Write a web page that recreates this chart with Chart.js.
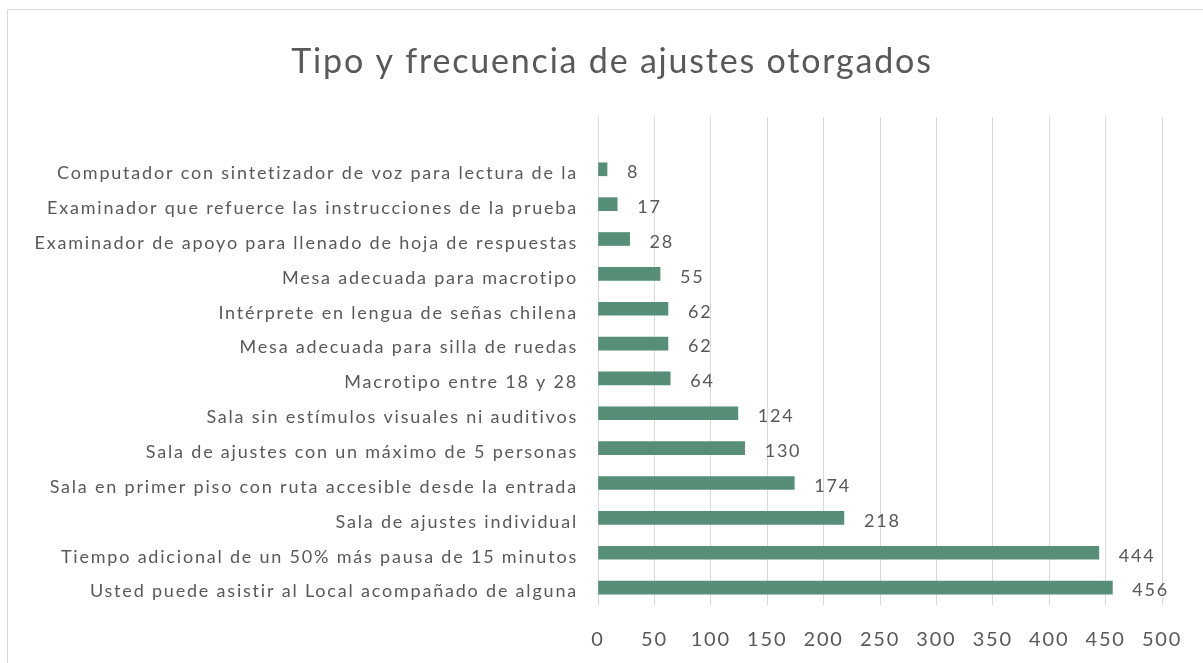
<!DOCTYPE html>
<html>
<head>
<meta charset="utf-8">
<script src="https://cdn.jsdelivr.net/npm/chart.js@4"></script>
<style>
  html, body { margin: 0; padding: 0; background: #fff; overflow: hidden; }
  #frame { position: absolute; left: 7px; top: 9px; width: 1300px; height: 700px; border: 1px solid #d9d9d9; }
  #wrap { position: absolute; left: 0; top: 0; width: 1203px; height: 663px; }
</style>
</head>
<body>
<div id="frame"></div>
<div id="wrap"><canvas id="ajustesChart" width="1203" height="663"></canvas></div>
<script>
// Tipo y frecuencia de ajustes otorgados

const chartTitle = 'Tipo y frecuencia de ajustes otorgados';

// first entry is the empty category Excel leaves at the top
const categories = [
    '',
    'Computador con sintetizador de voz para lectura de la',
    'Examinador que refuerce las instrucciones de la prueba',
    'Examinador de apoyo para llenado de hoja de respuestas',
    'Mesa adecuada para macrotipo',
    'Intérprete en lengua de señas chilena',
    'Mesa adecuada para silla de ruedas',
    'Macrotipo entre 18 y 28',
    'Sala sin estímulos visuales ni auditivos',
    'Sala de ajustes con un máximo de 5 personas',
    'Sala en primer piso con ruta accesible desde la entrada',
    'Sala de ajustes individual',
    'Tiempo adicional de un 50% más pausa de 15 minutos',
    'Usted puede asistir al Local acompañado de alguna'
];

const frecuencia = [null, 8, 17, 28, 55, 62, 62, 64, 124, 130, 174, 218, 444, 456];

const xMin = 0;
const xMax = 500;
const xStep = 50;

const textColor = '#595959';
const fontFamily = 'Lato, "Open Sans", sans-serif';

// the original font runs wider than Lato, open it up a bit
const wideText = {
    id: 'wideText',
    beforeDraw(chart) {
        chart.ctx.letterSpacing = '1.8px';
    }
};

// title centred on the whole frame, not on the plot
const frameTitle = {
    id: 'frameTitle',
    afterDraw(chart) {
        const ctx = chart.ctx;
        ctx.save();
        ctx.font = '34px ' + fontFamily;
        ctx.fillStyle = textColor;
        ctx.textAlign = 'center';
        ctx.textBaseline = 'alphabetic';
        ctx.fillText(chartTitle, 612, 73);
        ctx.restore();
    }
};

// draws the number after each bar
const barValueLabels = {
    id: 'barValueLabels',
    afterDatasetsDraw(chart) {
        const ctx = chart.ctx;
        ctx.save();
        ctx.font = '18px ' + fontFamily;
        ctx.fillStyle = textColor;
        ctx.textAlign = 'left';
        ctx.textBaseline = 'middle';
        chart.getDatasetMeta(0).data.forEach(function(bar, i) {
            const v = frecuencia[i];
            if (v === null) return;
            ctx.fillText(String(v), bar.x + 20, bar.y + 3);
        });
        ctx.restore();
    }
};

const ctx = document.getElementById('ajustesChart').getContext('2d');
new Chart(ctx, {
    type: 'bar',
    data: {
        labels: categories,
        datasets: [{
            data: frecuencia,
            backgroundColor: '#568e78',
            borderWidth: 0,
            barThickness: 13
        }]
    },
    options: {
        indexAxis: 'y',
        responsive: false,
        animation: false,
        layout: { padding: { left: 0, right: 41, top: 117, bottom: 0 } },
        plugins: {
            legend: { display: false },
            tooltip: { enabled: false },
            title: { display: false }
        },
        scales: {
            x: {
                min: xMin,
                max: xMax,
                ticks: {
                    stepSize: xStep,
                    color: textColor,
                    padding: 23,
                    font: { family: fontFamily, size: 20 }
                },
                grid: { color: '#d9d9d9', lineWidth: 1, drawTicks: false },
                border: { display: false },
                afterFit: function(scale) { scale.height = 58; }
            },
            y: {
                ticks: {
                    color: textColor,
                    padding: 20,
                    labelOffset: 4,
                    autoSkip: false,
                    font: { family: fontFamily, size: 18 }
                },
                grid: { display: false, drawTicks: false },
                border: { display: false },
                afterFit: function(scale) { scale.width = 598; }
            }
        }
    },
    plugins: [wideText, frameTitle, barValueLabels]
});
</script>
</body>
</html>
